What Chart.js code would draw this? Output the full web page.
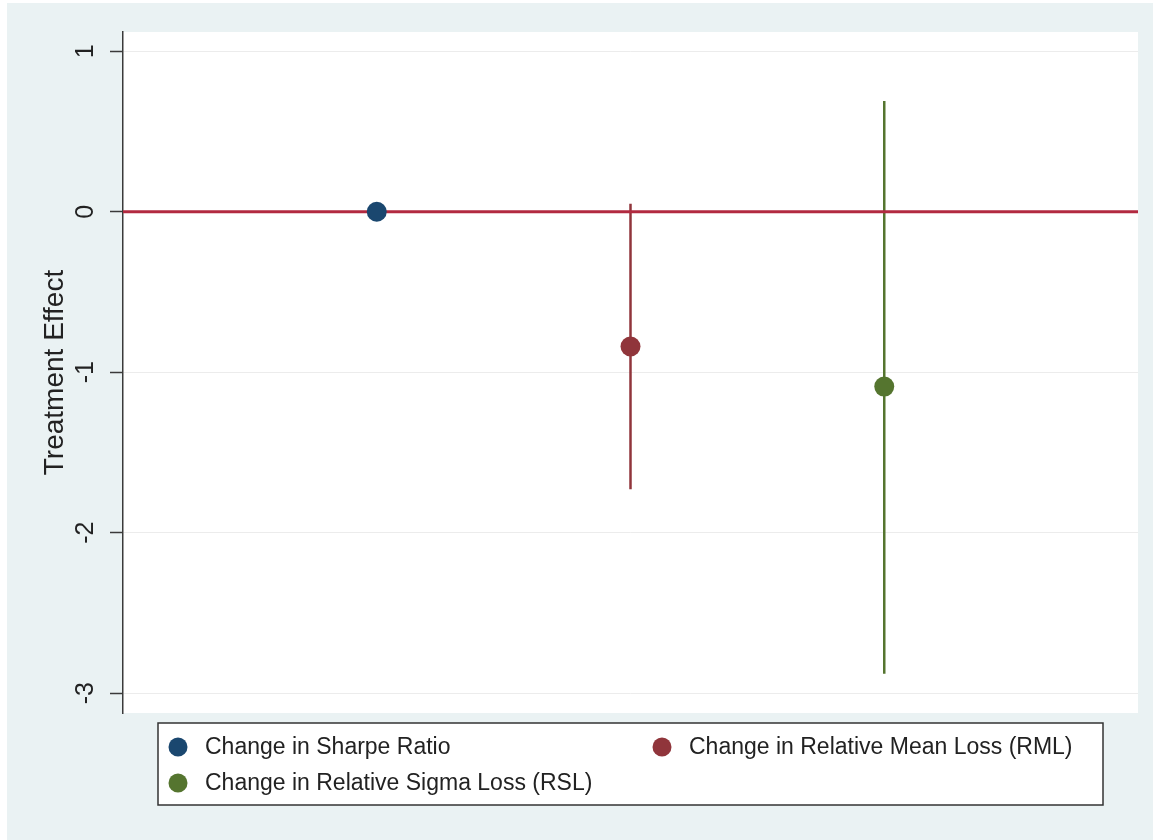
<!DOCTYPE html>
<html>
<head>
<meta charset="utf-8">
<script src="https://cdn.jsdelivr.net/npm/chart.js@4.4.1/dist/chart.umd.min.js"></script>
<style>
  html, body { margin: 0; padding: 0; background: #ffffff; }
  #wrap { width: 1153px; height: 840px; }
  canvas { display: block; }
</style>
</head>
<body>
<div id="wrap"><canvas id="chart" width="1153" height="840"></canvas></div>
<script>
// Treatment effects with confidence intervals
const seriesLabels = [
  'Change in Sharpe Ratio',
  'Change in Relative Mean Loss (RML)',
  'Change in Relative Sigma Loss (RSL)'
];
const seriesX = [1, 2, 3];
const estimates = [0.00, -0.84, -1.09];
const ciLower = [-0.01, -1.73, -2.88];
const ciUpper = [0.01, 0.05, 0.69];
const seriesColors = ['#1a476f', '#90353b', '#55752f'];
const yTickValues = [1, 0, -1, -2, -3];
const referenceY = 0;
const xRange = [0, 4];
const yRange = [-3.124, 1.12];

const FONT = "'Liberation Sans', Arial, Helvetica, sans-serif";

const datasets = [];
// estimate markers (drawn on top)
seriesLabels.forEach((label, i) => {
  datasets.push({
    type: 'scatter',
    label: label,
    data: [{ x: seriesX[i], y: estimates[i] }],
    backgroundColor: seriesColors[i],
    borderColor: seriesColors[i],
    borderWidth: 0,
    pointRadius: 10,
    pointHoverRadius: 10,
    order: 1,
    inLegend: true
  });
});
// zero reference line
datasets.push({
  type: 'line',
  label: 'zero',
  data: [{ x: xRange[0], y: referenceY }, { x: xRange[1], y: referenceY }],
  borderColor: '#b22a40',
  borderWidth: 3,
  pointRadius: 0,
  order: 2,
  inLegend: false
});
// confidence interval spikes
seriesLabels.forEach((label, i) => {
  datasets.push({
    type: 'line',
    label: label + ' CI',
    data: [{ x: seriesX[i], y: ciLower[i] }, { x: seriesX[i], y: ciUpper[i] }],
    borderColor: seriesColors[i],
    borderWidth: 2.5,
    pointRadius: 0,
    order: 3,
    inLegend: false
  });
});

// page and plot-region backgrounds
const backgroundPlugin = {
  id: 'backgrounds',
  beforeDraw(chart) {
    const { ctx, width, height, chartArea } = chart;
    ctx.save();
    ctx.fillStyle = '#ffffff';
    ctx.fillRect(0, 0, width, height);
    ctx.fillStyle = '#eaf2f3';
    ctx.fillRect(7, 3, width - 7, height - 3);
    ctx.fillStyle = '#ffffff';
    ctx.fillRect(chartArea.left, chartArea.top, chartArea.right - chartArea.left, chartArea.bottom - chartArea.top);
    ctx.restore();
  }
};

// boxed two-column legend below the plot
const boxedLegend = {
  id: 'boxedLegend',
  afterDraw(chart) {
    const { ctx } = chart;
    const items = chart.data.datasets.filter(d => d.inLegend);
    const box = { left: 158, top: 723, width: 945, height: 82 };
    const colX = [178, 662];
    const rowY = [747, 783];
    ctx.save();
    ctx.fillStyle = '#ffffff';
    ctx.fillRect(box.left, box.top, box.width, box.height);
    ctx.strokeStyle = '#333333';
    ctx.lineWidth = 1.5;
    ctx.strokeRect(box.left, box.top, box.width, box.height);
    ctx.font = '23px ' + FONT;
    ctx.textBaseline = 'middle';
    ctx.textAlign = 'left';
    items.forEach((d, i) => {
      const cx = colX[i % 2];
      const cy = rowY[Math.floor(i / 2)];
      ctx.beginPath();
      ctx.arc(cx, cy, 9.5, 0, Math.PI * 2);
      ctx.fillStyle = d.backgroundColor;
      ctx.fill();
      ctx.fillStyle = '#222222';
      ctx.fillText(d.label, cx + 27, cy + 1);
    });
    ctx.restore();
  }
};

new Chart(document.getElementById('chart'), {
  type: 'scatter',
  data: { datasets },
  options: {
    responsive: false,
    animation: false,
    events: [],
    layout: { padding: { left: 0, right: 15, top: 32, bottom: 127 } },
    plugins: {
      legend: { display: false },
      tooltip: { enabled: false }
    },
    scales: {
      x: {
        type: 'linear',
        min: xRange[0],
        max: xRange[1],
        display: false
      },
      y: {
        type: 'linear',
        min: yRange[0],
        max: yRange[1],
        afterBuildTicks(scale) {
          scale.ticks = yTickValues.map(v => ({ value: v }));
        },
        afterFit(scale) {
          scale.width = 123;
        },
        border: { display: true, color: '#3a3a3a', width: 1.5 },
        grid: {
          color: '#ececec',
          lineWidth: 1,
          drawTicks: true,
          tickLength: 13,
          tickColor: '#3a3a3a',
          tickWidth: 1.5
        },
        ticks: {
          autoSkip: false,
          minRotation: 90,
          maxRotation: 90,
          crossAlign: 'center',
          padding: 13,
          color: '#222222',
          font: { family: FONT, size: 25 },
          callback: v => String(v)
        },
        title: {
          display: true,
          text: 'Treatment Effect',
          color: '#222222',
          font: { family: FONT, size: 28 },
          padding: { top: 38, bottom: 0 }
        }
      }
    }
  },
  plugins: [backgroundPlugin, boxedLegend]
});
</script>
</body>
</html>
